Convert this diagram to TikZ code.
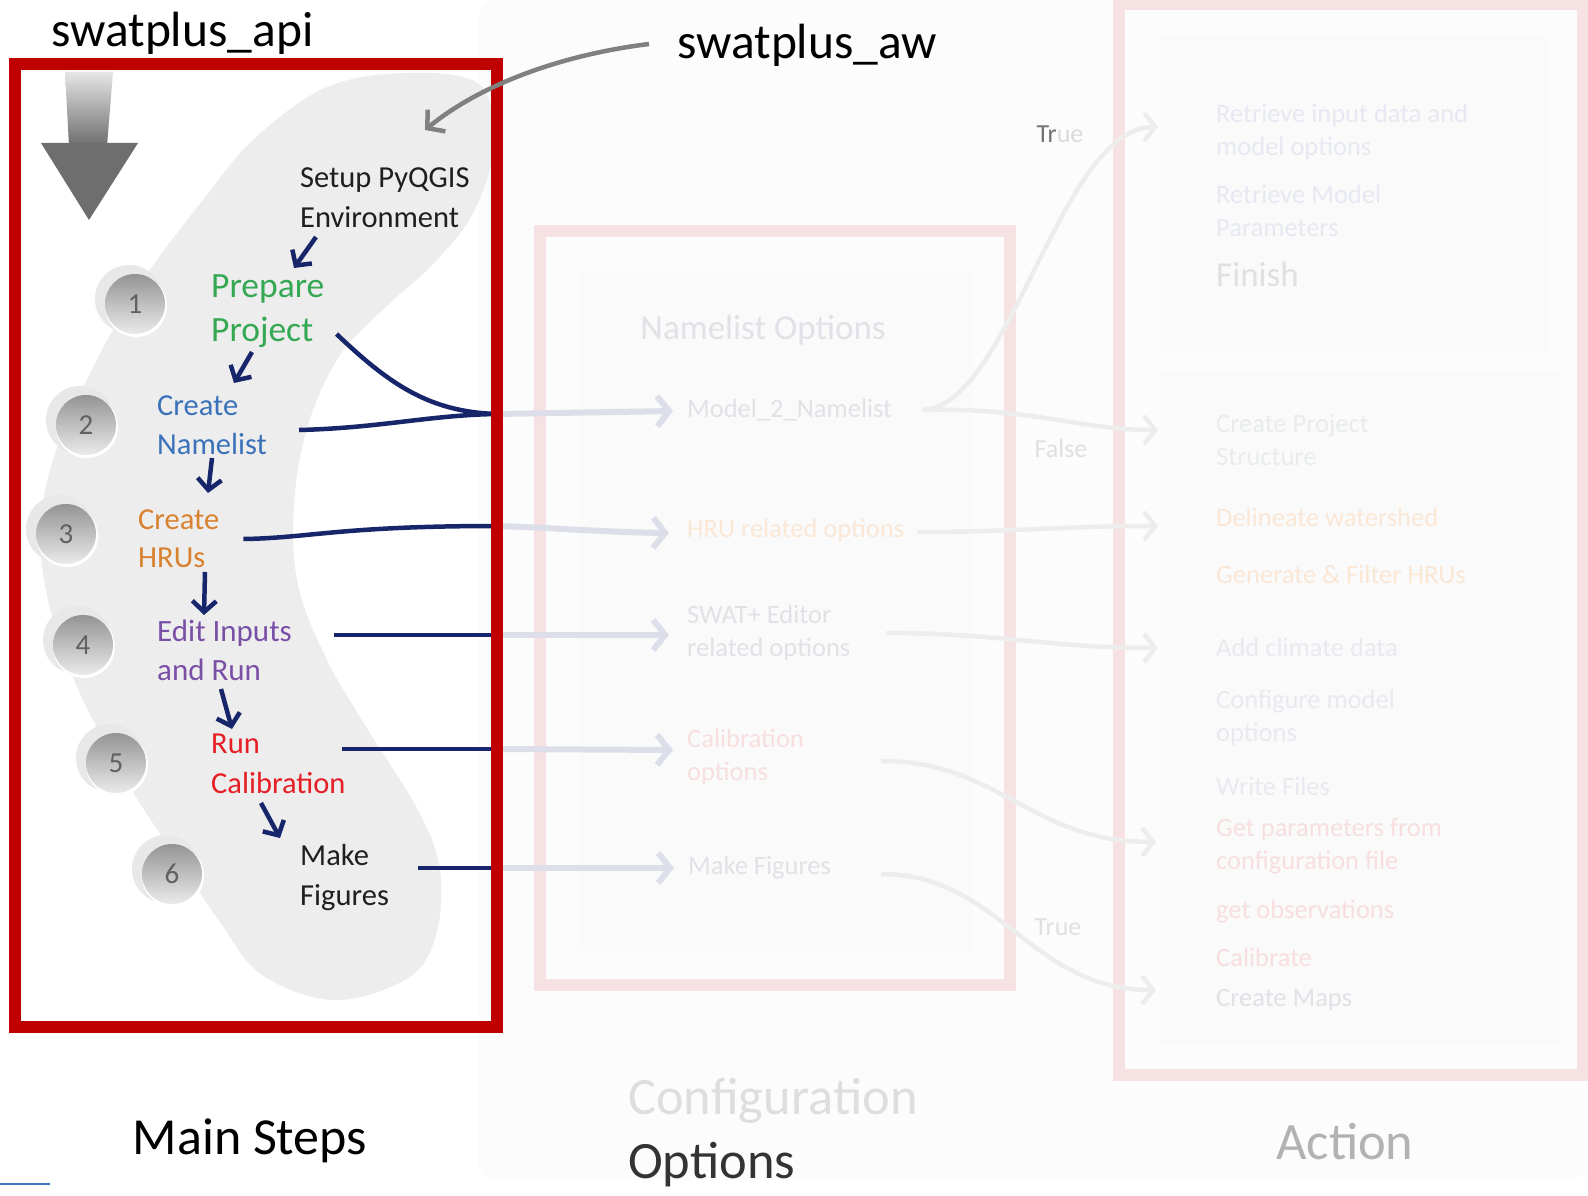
\documentclass[tikz,border=0pt]{standalone}
\usepackage{fontspec}
\setmainfont{Carlito}
\usetikzlibrary{arrows.meta,calc}
\definecolor{navy}{HTML}{17256B}
\definecolor{redbox}{HTML}{C00000}
\definecolor{pinkbox}{HTML}{F6E2E2}
\definecolor{blobc}{HTML}{EDEDED}
\definecolor{stgreen}{HTML}{35A853}
\definecolor{stblue}{HTML}{3B72B9}
\definecolor{storange}{HTML}{D8822F}
\definecolor{stpurple}{HTML}{7A4FA6}
\definecolor{stred}{HTML}{E61E25}
\definecolor{fgray}{HTML}{E1E2E7}
\definecolor{forange}{HTML}{FBE7D6}
\definecolor{fpink}{HTML}{F8DFDF}
\definecolor{fblue}{HTML}{E7E9F2}
\definecolor{fgreen}{HTML}{E8EDE9}
\definecolor{flav}{HTML}{EBE8F0}
\definecolor{fline}{HTML}{EDEDED}
\definecolor{farrow}{HTML}{DCDFE9}
\definecolor{bgfaint}{HTML}{FCFCFC}
\definecolor{panelfaint}{HTML}{FAFAFA}
\newcommand\myfs[2]{\fontsize{#1}{#2}\selectfont}
\tikzset{
  lbl/.style={anchor=west, align=left, inner sep=0pt},
  numlbl/.style={inner sep=0pt, text=black!62, font=\myfs{29}{32}},
  navyarr/.style={draw=navy, line width=4.5pt, -{Straight Barb[length=11pt,width=24pt]}},
  navyline/.style={draw=navy, line width=4.5pt},
  fadearr/.style={draw=farrow, line width=6pt, -{Straight Barb[length=12pt,width=30pt]}},
  rightarr/.style={draw=fline, line width=4.5pt, -{Straight Barb[length=11pt,width=28pt]}},
  pinkframe/.style={draw=pinkbox, line width=12pt},
}
\begin{document}
\begin{tikzpicture}[x=1pt,y=-1pt]
\useasboundingbox (0,0) rectangle (1588,1196);
\fill[white] (0,0) rectangle (1588,1196);
% faint background panels
\fill[bgfaint, rounded corners=20pt] (478,0) rectangle (1588,1180);
\fill[panelfaint] (578,272) rectangle (973,950);
\fill[panelfaint] (1161,36) rectangle (1549,350);
\fill[panelfaint] (1161,372) rectangle (1561,1044);
% pink frames
\draw[pinkframe] (540,231) rectangle (1010,985);
\draw[pinkframe] (1119,4) rectangle (1583,1075);

% middle labels
\node[lbl, text=fgray, font=\myfs{35}{40}, anchor=center] (nlo) at (763,330) {Namelist Options};
\node[lbl, text=fgray, font=\myfs{26.5}{33}] (m1) at (687,410) {Model\_2\_Namelist};
\node[lbl, text=forange, font=\myfs{26.5}{33}] (m2) at (687,530) {HRU related options};
\node[lbl, text=fgray, font=\myfs{26.5}{33}] (m3) at (687,633) {SWAT+ Editor\\related options};
\node[lbl, text=fpink, font=\myfs{26.5}{33}] (m4) at (687,757) {Calibration\\options};
\node[lbl, text=fgray, font=\myfs{26.5}{33}] (m5) at (688,868) {Make Figures};

% right labels
\node[lbl, text=fblue, font=\myfs{26.5}{33}] (r1) at (1216,132) {Retrieve input data and\\model options};
\node[lbl, text=fblue, font=\myfs{26.5}{33}] (r2) at (1216,211) {Retrieve Model\\Parameters};
\node[lbl, text=black!12, font=\myfs{35}{40}] (r3) at (1216,274) {Finish};
\node[lbl, text=fgreen, font=\myfs{26.5}{33}] (r4) at (1216,440) {Create Project\\Structure};
\node[lbl, text=forange, font=\myfs{26.5}{33}] (r5) at (1216,517) {Delineate watershed};
\node[lbl, text=forange, font=\myfs{26.5}{33}] (r6) at (1216,574) {Generate \& Filter HRUs};
\node[lbl, text=flav, font=\myfs{26.5}{33}] (r7) at (1216,647) {Add climate data};
\node[lbl, text=flav, font=\myfs{26.5}{33}] (r8) at (1216,718) {Configure model\\options};
\node[lbl, text=flav, font=\myfs{26.5}{33}] (r9) at (1216,786) {Write Files};
\node[lbl, text=fpink, font=\myfs{26.5}{33}] (r10) at (1216,846) {Get parameters from\\configuration file};
\node[lbl, text=fpink, font=\myfs{26.5}{33}] (r11) at (1216,912) {get observations};
\node[lbl, text=fpink, font=\myfs{26.5}{33}] (r12) at (1216,957) {Calibrate};
\node[lbl, text=fgray, font=\myfs{26.5}{33}] (r13) at (1216,1000) {Create Maps};

% condition labels
\node[inner sep=0pt, font=\myfs{26}{30}] (t1) at (1060,134) {{\color{black!55}Tr}{\color{black!14}ue}};
\node[inner sep=0pt, font=\myfs{26}{30}, text=black!12] (f1) at (1061,449) {False};
\node[inner sep=0pt, font=\myfs{26}{30}, text=black!12] (t2) at (1058,927) {True};

% right faint curves
\coordinate (e1) at (1158,127);
\coordinate (e4) at (1158,430);
\coordinate (e5) at (1158,526);
\coordinate (e7) at (1158,648);
\coordinate (e10) at (1156,842);
\coordinate (e13) at (1156,990);
\draw[rightarr] ([xshift=30pt]m1.east) .. controls (1010,407) and (1060,127) .. (e1);
\draw[rightarr] ([xshift=30pt]m1.east) .. controls (1030,407) and (1080,430) .. (e4);
\draw[rightarr] (917,532) .. controls (1020,532) and (1060,526) .. (e5);
\draw[rightarr] (886,633) .. controls (1000,633) and (1050,648) .. (e7);
\draw[rightarr] (881,761) .. controls (1000,761) and (1030,842) .. (e10);
\draw[rightarr] (881,874) .. controls (1000,874) and (1030,990) .. (e13);

% blob
\fill[blobc] plot[smooth cycle, tension=0.6] coordinates {
 (405,73) (480,85) (493,150) (472,215) (432,265) (388,305) (340,355) (308,425)
 (294,505) (298,585) (327,660) (368,730) (418,810) (440,870) (436,935) (408,978)
 (335,1000) (262,975) (220,922) (178,860) (138,800) (98,730) (68,665) (48,600)
 (40,535) (50,470) (75,405) (110,335) (150,270) (203,200) (253,140) (325,88)};

% big gray arrow
\shade[top color=black!10, bottom color=black!57] (65,72) -- (113,72) -- (107,146) -- (69,146) -- cycle;
\fill[black!57] (69,143) -- (41,143) -- (89,220) -- (138,143) -- (107,143) -- cycle;

% numbered circles
\foreach \n/\x/\y in {1/135/304, 2/86/425, 3/66/534, 4/83/645, 5/116/763, 6/172/874}{
  \fill[black!9] (\x-6,\y-5) circle (34pt);
  \fill[white] (\x+1,\y+2) circle (31pt);
  \shade[top color=black!42, bottom color=black!8] (\x,\y) circle (30pt);
  \node[numlbl] (c\n) at (\x,\y) {\n};
}

% step labels
\node[lbl, text=black!88, font=\myfs{30.5}{40}] (setup) at (300,198) {Setup PyQGIS\\Environment};
\node[lbl, text=stgreen, font=\myfs{35.5}{44}] (prep) at (211,311) {Prepare\\Project};
\node[lbl, text=stblue, font=\myfs{30.5}{39}] (nl) at (157,425) {Create\\Namelist};
\node[lbl, text=storange, font=\myfs{30.5}{38}] (hru) at (138,539) {Create\\HRUs};
\node[lbl, text=stpurple, font=\myfs{31}{39}] (edit) at (157,650) {Edit Inputs\\and Run};
\node[lbl, text=stred, font=\myfs{30.5}{40}] (run) at (211,764) {Run\\Calibration};
\node[lbl, text=black!88, font=\myfs{30.5}{40}] (make) at (300,878) {Make\\Figures};

% small navy step arrows
\coordinate (a1s) at (316,237); \coordinate (a1e) at (294,268);
\coordinate (a2s) at (252,352); \coordinate (a2e) at (234,383);
\coordinate (a3s) at (212,458); \coordinate (a3e) at (208,493);
\coordinate (a4s) at (205,572); \coordinate (a4e) at (204,615);
\coordinate (a5s) at (221,689); \coordinate (a5e) at (232,729);
\coordinate (a6s) at (261,803); \coordinate (a6e) at (280,838);
\draw[navyarr] (a1s) -- (a1e);
\draw[navyarr] (a2s) -- (a2e);
\draw[navyarr] (a3s) -- (a3e);
\draw[navyarr] (a4s) -- (a4e);
\draw[navyarr] (a5s) -- (a5e);
\draw[navyarr] (a6s) -- (a6e);

% junctions on the red frame
\coordinate (j1) at (497,414);
\coordinate (j3) at (497,526);
\coordinate (j4) at (497,635);
\coordinate (j5) at (497,749);
\coordinate (j6) at (497,868);

% faint continuation arrows
\draw[fadearr] (j1) -- ([xshift=-14pt,yshift=-1pt]m1.west);
\draw[fadearr] (j3) .. controls (560,528) and (600,532) .. ([xshift=-18pt,yshift=-3pt]m2.west);
\draw[fadearr] (j4) -- ([xshift=-18pt,yshift=-2pt]m3.west);
\draw[fadearr] (j5) -- ([xshift=-14pt,yshift=7pt]m4.west);
\draw[fadearr] (j6) -- ([xshift=-14pt]m5.west);

% navy connectors
\draw[navyline] ([shift={(12pt,-23pt)}]prep.east) .. controls (390,385) and (430,412) .. (j1);
\draw[navyline] ([shift={(32pt,-5pt)}]nl.east) .. controls (380,428) and (430,415) .. (j1);
\draw[navyline] ([xshift=24pt]hru.east) .. controls (310,538) and (340,526) .. (j3);
\draw[navyline] ([shift={(42pt,15pt)}]edit.east) -- (j4);
\draw[navyline] (342,749) -- (j5);
\draw[navyline] ([shift={(29pt,10pt)}]make.east) -- (j6);

% red frame
\draw[redbox, line width=12pt] (15,64) rectangle (497,1027);

% top labels
\node[anchor=west, inner sep=0pt, font=\myfs{49.5}{56}] (api) at (51,33) {swatplus\_api};
\node[anchor=west, inner sep=0pt, font=\myfs{49.5}{56}] (aw) at (677,45) {swatplus\_aw};
\draw[black!50, line width=4.5pt, -{Straight Barb[length=12pt,width=28pt]}]
  ([xshift=-28pt,yshift=1pt]aw.west) .. controls (560,55) and (480,85) .. (425,130);

% bottom labels
\node[inner sep=0pt, font=\myfs{52}{60}] (mainsteps) at (250,1141) {Main Steps};
\node[lbl, font=\myfs{52.5}{64}] (config) at (628,1133) {{\color{black!13}Configuration}\\{\color{black!80}Options}};
\node[inner sep=0pt, font=\myfs{52.5}{60}, text=black!30] (action) at (1345,1142) {Action};

% small blue fragment at the bottom left
\draw[color={rgb,255:red,68;green,114;blue,196}, line width=2pt] (0,1184) -- (50,1184);
\end{tikzpicture}
\end{document}
